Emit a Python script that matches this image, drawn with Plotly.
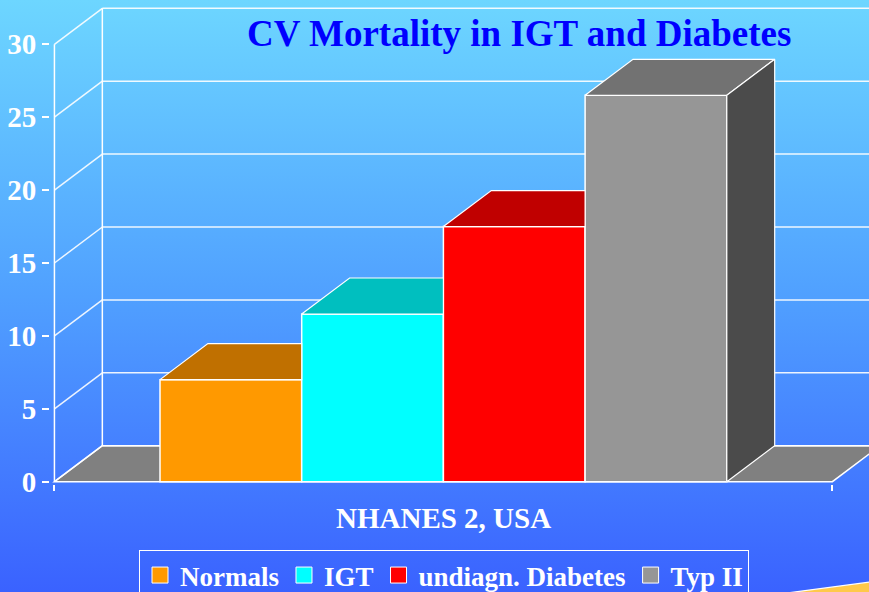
import base64
import plotly.graph_objects as go

# ---- data ----
series_names = ["Normals", "IGT", "undiagn. Diabetes", "Typ II"]
series_values = [7, 11.5, 17.5, 26.5]
category_label = "NHANES 2, USA"
y_ticks = [0, 5, 10, 15, 20, 25, 30]
title_text = "CV Mortality in IGT and Diabetes"

# ---- styles ----
front_colors = ["#FF9900", "#00FFFF", "#FF0000", "#969696"]
top_colors = ["#C07000", "#00BFBF", "#C00000", "#727272"]
side_colors = ["#B06000", "#00A0A0", "#A00000", "#4B4B4B"]
FONT = "Liberation Serif, Times New Roman, serif"

# geometry in axis units
bar_w = 1.0
n = len(series_values)
centers = [(i - (n - 1) / 2) * bar_w for i in range(n)]
xL, xR = -2.745, 2.745          # floor front edges
dxd, dyd = 0.338, 2.47          # 3-D depth offset
ymax_tick = max(y_ticks)

# page layout
W, H = 869, 592
L = 50                 # plot left edge
PLOT_BOTTOM = 484      # plot bottom edge
B = H - PLOT_BOTTOM
pw, ph = W - L, PLOT_BOTTOM


def px(page_x):
    return (page_x - L) / pw


def py(page_y):
    return (PLOT_BOTTOM - page_y) / ph


fig = go.Figure()

# front faces (bars)
for name, v, c, col in zip(series_names, series_values, centers, front_colors):
    fig.add_trace(go.Bar(x=[c], y=[v], width=bar_w, marker=dict(color=col, line=dict(color="white", width=1.5)),
                         showlegend=False, hoverinfo="skip", name=name))

# top and side faces
for i, (v, c) in enumerate(zip(series_values, centers)):
    x0, x1 = c - bar_w / 2, c + bar_w / 2
    nxt_taller = i < n - 1 and series_values[i + 1] >= v
    if nxt_taller:
        xs = [x0, x1, x1, x0 + dxd, x0]
    else:
        xs = [x0, x1, x1 + dxd, x0 + dxd, x0]
    ys = [v, v, v + dyd, v + dyd, v]
    fig.add_trace(go.Scatter(x=xs, y=ys, mode="lines", fill="toself", fillcolor=top_colors[i],
                             line=dict(color="white", width=1.2), showlegend=False, hoverinfo="skip"))
    if not nxt_taller:
        fig.add_trace(go.Scatter(x=[x1, x1 + dxd, x1 + dxd, x1, x1], y=[0, dyd, v + dyd, v, 0],
                                 mode="lines", fill="toself", fillcolor=side_colors[i],
                                 line=dict(color="white", width=1.2), showlegend=False, hoverinfo="skip"))

# legend entries
for name, col in zip(series_names, front_colors):
    fig.add_trace(go.Scatter(x=[None], y=[None], mode="markers", name="<b>" + name + "</b>",
                             marker=dict(symbol="square", size=18, color=col, line=dict(color="white", width=1))))

shapes = []
# floor
shapes.append(dict(type="path", xref="x", yref="y", layer="below",
                   path=f"M{xL},0 L{xR},0 L{xR + dxd},{dyd} L{xL + dxd},{dyd} Z",
                   fillcolor="#808080", line=dict(color="white", width=1.5)))
# back wall gridlines and side-wall diagonals
for t in y_ticks:
    shapes.append(dict(type="line", xref="x", yref="y", layer="below", x0=xL + dxd, x1=xR + dxd + 1,
                       y0=t + dyd, y1=t + dyd, line=dict(color="rgba(255,255,255,0.9)", width=1.5)))
    shapes.append(dict(type="line", xref="x", yref="y", layer="below", x0=xL, x1=xL + dxd,
                       y0=t, y1=t + dyd, line=dict(color="rgba(255,255,255,0.9)", width=1.5)))
# vertical wall edges
shapes.append(dict(type="line", xref="x", yref="y", layer="below", x0=xL, x1=xL, y0=0, y1=ymax_tick,
                   line=dict(color="white", width=1.5)))
shapes.append(dict(type="line", xref="x", yref="y", layer="below", x0=xL + dxd, x1=xL + dxd, y0=dyd,
                   y1=ymax_tick + dyd, line=dict(color="white", width=1.5)))
# decorative slide swoosh (bottom right)
shapes.append(dict(type="path", xref="paper", yref="paper", layer="above",
                   path=f"M{px(787)},{py(593)} L{px(870)},{py(582)} L{px(870)},{py(593)} Z",
                   fillcolor="#FFC94A", line=dict(color="white", width=1.2)))

# gradient background as inline svg (covers the whole page)
svg = (f"<svg xmlns='http://www.w3.org/2000/svg' width='{W}' height='{H}' preserveAspectRatio='none'>"
       "<defs><linearGradient id='g' x1='0' y1='0' x2='0' y2='1'>"
       "<stop offset='0' stop-color='#6DD6FF'/><stop offset='0.5' stop-color='#50A0FF'/>"
       "<stop offset='1' stop-color='#3A62FF'/></linearGradient></defs>"
       f"<rect width='{W}' height='{H}' fill='url(#g)'/></svg>")
uri = "data:image/svg+xml;base64," + base64.b64encode(svg.encode()).decode()

xscale = 141.7
xc_px = 443.4
xmin = (L - xc_px) / xscale
xmax = (W - xc_px) / xscale
yscale = 14.58
y0_px = 481.7
ymin = -(ph - y0_px) / yscale
ymax = y0_px / yscale

fig.update_layout(
    width=W, height=H,
    margin=dict(l=L, r=0, t=0, b=B, pad=0, autoexpand=False),
    paper_bgcolor="#3A62FF", plot_bgcolor="rgba(0,0,0,0)",
    barmode="overlay",
    font=dict(family=FONT, color="white"),
    images=[dict(source=uri, xref="paper", yref="paper", x=px(0), y=py(0), sizex=W / pw,
                 sizey=H / ph, xanchor="left", yanchor="top", sizing="stretch", layer="below")],
    shapes=shapes,
    xaxis=dict(range=[xmin, xmax], showgrid=False, zeroline=False, showline=False,
               tickvals=[xL, xR], ticktext=["", ""], ticks="outside", ticklen=6, tickwidth=1.5,
               tickcolor="white", fixedrange=True, automargin=False),
    yaxis=dict(range=[ymin, ymax], showgrid=False, zeroline=False, showline=False,
               tickvals=y_ticks, ticktext=[f"<b>{t}</b>" for t in y_ticks], ticks="outside", ticklen=7,
               tickwidth=1.5, tickcolor="white", tickfont=dict(size=29, color="white", family=FONT),
               fixedrange=True, automargin=False),
    legend=dict(orientation="h", x=px(444), xanchor="center", y=py(550), yanchor="top",
                bgcolor="rgba(0,0,0,0)", bordercolor="white", borderwidth=1,
                font=dict(size=27, color="white", family=FONT), itemsizing="trace", tracegroupgap=0),
    annotations=[
        dict(text=f"<b>{title_text}</b>", xref="paper", yref="paper", x=px(519), y=py(33),
             xanchor="center", yanchor="middle", showarrow=False,
             font=dict(size=37, color="#0000FF", family=FONT)),
        dict(text=f"<b>{category_label}</b>", xref="x", yref="y", x=0, y=0, yanchor="top", yshift=-18,
             xanchor="center", showarrow=False, font=dict(size=29, color="white", family=FONT)),
    ],
    showlegend=True,
)

page_fix = (
    "var h=document.documentElement,b=document.body;"
    "[h,b].forEach(function(e){e.style.margin='0';e.style.padding='0';e.style.width='869px';"
    "e.style.height='592px';e.style.overflow='hidden';e.style.background='#3A62FF';});"
    "var g=document.getElementById('{plot_id}');g.style.position='absolute';g.style.left='0';g.style.top='0';"
)
fig.write_html("out.html", config={"displayModeBar": False}, post_script=page_fix)
